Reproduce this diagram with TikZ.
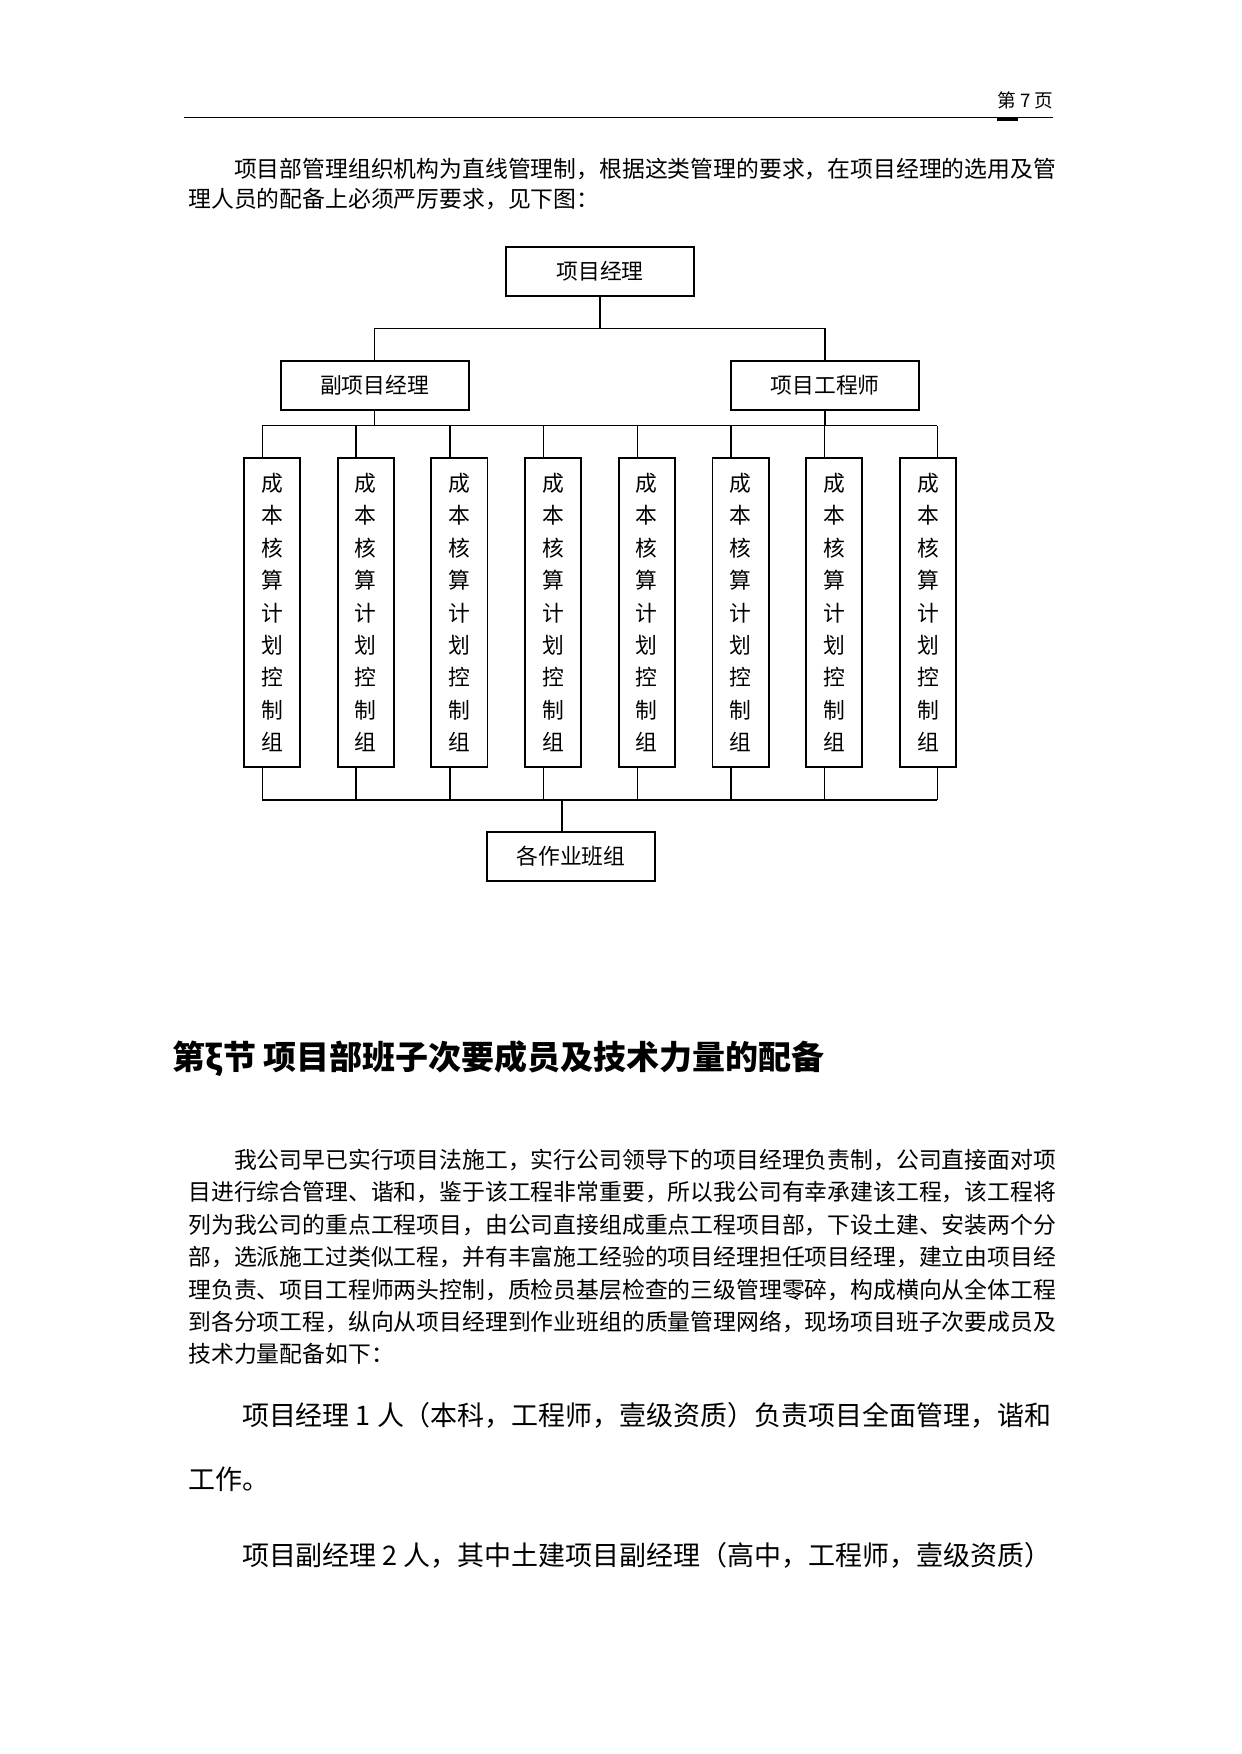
\documentclass[tikz,border=0pt]{standalone}
\usepackage{fontspec}
\newfontfamily\cjk{Noto Sans CJK SC}
\usetikzlibrary{positioning}
\tikzset{
    bigbox/.style={draw, line width=0.9pt, inner sep=0pt, outer sep=0pt, minimum width=90.6pt, minimum height=23.5pt, font=\cjk\fontsize{10.5pt}{12pt}\selectfont},
    groupbox/.style={draw, line width=0.9pt, inner sep=0pt, outer sep=0pt, minimum width=27pt, minimum height=148.5pt, align=center, font=\cjk\fontsize{10.5pt}{15.6pt}\selectfont},
    link/.style={line width=0.7pt},
    textline/.style={anchor=base west, inner sep=0pt, font=\cjk\fontsize{11pt}{13pt}\selectfont},
    bigline/.style={anchor=base west, inner sep=0pt, font=\cjk\fontsize{13pt}{15pt}\selectfont},
    heading/.style={anchor=base west, inner sep=0pt, font=\cjk\bfseries\fontsize{15.9pt}{18pt}\selectfont}
}
\newcommand{\grouptext}{成\\本\\核\\算\\计\\划\\控\\制\\组}

\begin{document}
\begin{tikzpicture}[x=0.4818pt, y=-0.4818pt]
  \path[fill=white] (0,0) rectangle (1241,1754);
  \useasboundingbox (0,0) rectangle (1241,1754);

  \node (hdr)[anchor=base east, inner sep=0pt, font=\cjk\fontsize{9pt}{11pt}\selectfont] at (1054,107.6) {第 7 页};
  \draw[line width=0.8pt] (184,117.5) -- (1053,117.5);
  \draw[line width=1.5pt] (997,119.5) -- (1018,119.5);

  \node (p1a)[textline] at (233.7,177.7) {项目部管理组织机构为直线管理制，根据这类管理的要求，在项目经理的选用及管};
  \node (p1b)[textline] at (188,207.7) {理人员的配备上必须严厉要求，见下图：};

  \node (top)[bigbox] at (600,271.2) {项目经理};
  \node (vice)[bigbox] at (374.6,385.4) {副项目经理};
  \node (eng)[bigbox, right=126.5pt of vice] {项目工程师};
  \node (g1)[groupbox] at (272,612.5) {\grouptext};
  \foreach \i [count=\j] in {2,...,8}
    \node (g\i)[groupbox, right=18.15pt of g\j] {\grouptext};
  \node (crew)[bigbox, minimum width=81.2pt] at (571,856.6) {各作业班组};

  \coordinate (hub) at (600,328.7);
  \coordinate (busL) at (262.3,425.7);
  \coordinate (busR) at (937.3,425.7);
  \coordinate (baseL) at (262.3,800);
  \coordinate (baseR) at (937.3,800);
  \coordinate (drop) at (562,800);

  \draw[link](top)--(hub);
  \draw[link](vice)|-(hub)-|(eng);
  \draw[link](busL)--(busR);
  \draw[link](vice)--(vice |- busL);
  \draw[link](eng)--(eng |- busL);
  \foreach \i/\s in {1/-4.6,2/-4.6,3/-4.6,4/-4.6,5/-4.6,6/-4.6,7/-4.6,8/4.5}{
    \coordinate (up\i) at ([xshift=\s pt]g\i.north);
    \coordinate (dn\i) at ([xshift=\s pt]g\i.south);
    \draw[link](up\i)--(up\i |- busL);
    \draw[link](dn\i)--(dn\i |- baseL);
  }
  \draw[link](baseL)--(baseR);
  \draw[link](drop)--(drop |- crew.north);

  \node (sec)[heading] at (172,1069.1) {第ξ节 项目部班子次要成员及技术力量的配备};

  \node (p2a)[textline] at (233.7,1168.5) {我公司早已实行项目法施工，实行公司领导下的项目经理负责制，公司直接面对项};
  \foreach \txt [count=\k] in {目进行综合管理、谐和，鉴于该工程非常重要，所以我公司有幸承建该工程，该工程将,
      列为我公司的重点工程项目，由公司直接组成重点工程项目部，下设土建、安装两个分,
      部，选派施工过类似工程，并有丰富施工经验的项目经理担任项目经理，建立由项目经,
      理负责、项目工程师两头控制，质检员基层检查的三级管理零碎，构成横向从全体工程,
      到各分项工程，纵向从项目经理到作业班组的质量管理网络，现场项目班子次要成员及,
      技术力量配备如下：}
    \node (p2\k)[textline] at (188,{1168.5+32.4*\k}) {\txt};

  \node (q1)[bigline] at (241.6,1425.3) {项目经理 1 人（本科，工程师，壹级资质）负责项目全面管理，谐和};
  \node (q2)[bigline] at (188,1489) {工作。};
  \node (q3)[bigline] at (241.6,1565.3) {项目副经理 2 人，其中土建项目副经理（高中，工程师，壹级资质）};
\end{tikzpicture}
\end{document}
